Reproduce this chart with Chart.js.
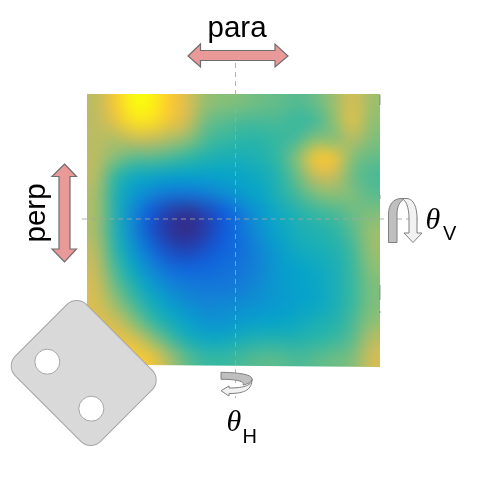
<!DOCTYPE html>
<html>
<head>
<meta charset="utf-8">
<style>
  html, body { margin: 0; padding: 0; background: #fff; }
  canvas { display: block; }
</style>
<script src="https://cdn.jsdelivr.net/npm/chart.js@4"></script>
</head>
<body>
<canvas id="map" width="480" height="480"></canvas>
<script>
// map values, 0 = dark blue, 1 = yellow, one list per row
const row0  = [.62, .78, 1.0, .98, .80, .68, .57, .55, .54, .52, .51, .49, .52, .58, .68, .58];
const row1  = [.62, .72, .90, .90, .76, .66, .52, .50, .48, .48, .48, .46, .47, .56, .72, .56];
const row2  = [.62, .60, .64, .64, .60, .56, .48, .46, .44, .44, .46, .48, .56, .54, .62, .54];
const row3  = [.62, .55, .50, .50, .48, .45, .42, .40, .40, .42, .46, .56, .80, .78, .54, .51];
const row4  = [.62, .45, .38, .36, .34, .34, .34, .35, .36, .38, .43, .52, .64, .64, .52, .48];
const row5  = [.60, .42, .32, .26, .22, .22, .24, .28, .33, .36, .42, .48, .54, .56, .54, .50];
const row6  = [.60, .42, .27, .14, .06, .02, .08, .15, .24, .32, .38, .42, .46, .48, .52, .54];
const row7  = [.60, .42, .27, .12, .03, .00, .06, .15, .22, .30, .36, .40, .42, .44, .50, .58];
const row8  = [.62, .44, .31, .19, .10, .07, .12, .17, .20, .27, .33, .38, .40, .42, .47, .58];
const row9  = [.64, .48, .36, .26, .19, .17, .18, .20, .22, .26, .32, .35, .37, .40, .46, .56];
const row10 = [.66, .52, .42, .33, .26, .23, .22, .22, .24, .28, .32, .34, .36, .40, .46, .54];
const row11 = [.68, .58, .48, .39, .33, .28, .26, .27, .28, .30, .32, .34, .36, .40, .46, .54];
const row12 = [.70, .66, .56, .46, .39, .34, .30, .30, .33, .34, .35, .37, .40, .42, .48, .56];
const row13 = [.75, .74, .70, .58, .48, .40, .37, .37, .40, .42, .42, .42, .44, .46, .50, .62];
const row14 = [.80, .82, .82, .76, .60, .50, .46, .46, .48, .50, .50, .48, .50, .52, .54, .66];
const rows = [row0, row1, row2, row3, row4, row5, row6, row7, row8, row9, row10, row11, row12, row13, row14];

// parula stops
const parula = [[53,42,135],[15,92,221],[20,129,214],[6,164,202],[46,183,164],[135,191,119],[209,187,89],[254,200,50],[249,251,14]];
const stopAt = [0, .15, .25, .35, .45, .55, .65, .8, 1];

function colourOf(v) {
    let i = 0;
    while (i < stopAt.length - 2 && v > stopAt[i + 1]) i++;
    const t = (v - stopAt[i]) / (stopAt[i + 1] - stopAt[i]);
    const c = parula[i].map((p, k) => Math.round(p + (parula[i + 1][k] - p) * t));
    return 'rgb(' + c.join(',') + ')';
}

const cells = [];
rows.forEach((row, r) => row.forEach((v, c) => cells.push({ x: c + 0.5, y: r + 0.5, v: v })));

// smooths the drawn cells, the source image was interpolated
const smoothCells = {
    id: 'smoothCells',
    afterDatasetsDraw(chart) {
        const a = chart.chartArea, ctx = chart.ctx;
        const nx = row0.length, ny = rows.length;
        const cw = a.width / nx, ch = a.height / ny;
        const tmp = document.createElement('canvas');
        tmp.width = nx + 2;
        tmp.height = ny + 2;
        const t = tmp.getContext('2d');
        t.imageSmoothingEnabled = false;
        t.drawImage(chart.canvas, a.left, a.top, a.width, a.height, 1, 1, nx, ny);
        // repeat the edge cells so the blur does not fade out at the border
        t.drawImage(tmp, 1, 1, nx, 1, 1, 0, nx, 1);
        t.drawImage(tmp, 1, ny, nx, 1, 1, ny + 1, nx, 1);
        t.drawImage(tmp, 1, 0, 1, ny + 2, 0, 0, 1, ny + 2);
        t.drawImage(tmp, nx, 0, 1, ny + 2, nx + 1, 0, 1, ny + 2);
        ctx.save();
        ctx.fillStyle = '#fff';
        ctx.fillRect(a.left, a.top, a.width, a.height + 1);
        ctx.beginPath();
        ctx.moveTo(a.left, a.top);
        ctx.lineTo(a.right, a.top);
        ctx.lineTo(a.right, a.bottom);
        ctx.lineTo(a.left, a.bottom - 2.5);
        ctx.closePath();
        ctx.clip();
        ctx.imageSmoothingEnabled = true;
        ctx.imageSmoothingQuality = 'high';
        ctx.filter = 'blur(6px)';
        ctx.drawImage(tmp, a.left - cw, a.top - ch, a.width + 2 * cw, a.height + 2 * ch);
        ctx.restore();
    }
};

function doubleArrow(ctx, pts) {
    ctx.beginPath();
    pts.forEach((p, i) => i ? ctx.lineTo(p[0], p[1]) : ctx.moveTo(p[0], p[1]));
    ctx.closePath();
    ctx.fillStyle = '#ea9999';
    ctx.strokeStyle = '#6e6e6e';
    ctx.lineWidth = 1.2;
    ctx.fill();
    ctx.stroke();
}

function dashed(ctx, x1, y1, x2, y2) {
    ctx.save();
    ctx.strokeStyle = 'rgba(165,165,165,0.85)';
    ctx.lineWidth = 1;
    ctx.setLineDash([5, 4]);
    ctx.beginPath();
    ctx.moveTo(x1, y1);
    ctx.lineTo(x2, y2);
    ctx.stroke();
    ctx.restore();
}

function label(ctx, text, x, y, font) {
    ctx.font = font;
    ctx.fillStyle = '#000';
    ctx.textAlign = 'left';
    ctx.textBaseline = 'alphabetic';
    ctx.fillText(text, x, y);
}

// arrows, crosshair, sample holder and the axis names
const overlay = {
    id: 'overlay',
    afterDraw(chart) {
        const ctx = chart.ctx;
        ctx.save();

        dashed(ctx, 235.5, 63, 235.5, 398);
        dashed(ctx, 82, 219, 418, 219);

        // small marks on the right edge
        ctx.fillStyle = '#8b9a9a';
        [[95, 10], [195, 4], [285, 15], [311, 2]].forEach(m => ctx.fillRect(379, m[0], 1.5, m[1]));

        doubleArrow(ctx, [[188, 56], [200.5, 44], [200.5, 50.5], [275, 50.5], [275, 44], [288, 56], [275, 67], [275, 60.5], [200.5, 60.5], [200.5, 67]]);
        doubleArrow(ctx, [[64.5, 164], [76.5, 176.5], [70, 176.5], [70, 249], [76.5, 249], [64.5, 262], [52, 249], [59, 249], [59, 176.5], [52, 176.5]]);

        label(ctx, 'para', 207.5, 37, '29.5px "Liberation Sans"');
        ctx.save();
        ctx.translate(45, 242.5);
        ctx.rotate(-Math.PI / 2);
        label(ctx, 'perp', 0, 0, '29.5px "Liberation Sans"');
        ctx.restore();

        // theta V rotation icon
        ctx.strokeStyle = '#7f7f7f';
        ctx.lineWidth = 1;
        ctx.beginPath();
        ctx.moveTo(388.5, 242.5);
        ctx.lineTo(388.5, 214);
        ctx.bezierCurveTo(388.5, 204, 394, 198.5, 401, 198.5);
        ctx.lineTo(407, 198.5);
        ctx.bezierCurveTo(401, 199, 397, 205, 397, 214);
        ctx.lineTo(397, 242.5);
        ctx.closePath();
        ctx.fillStyle = '#bfbfbf';
        ctx.fill();
        ctx.stroke();
        ctx.beginPath();
        ctx.moveTo(401, 198.5);
        ctx.lineTo(407, 198.5);
        ctx.bezierCurveTo(414, 199, 417, 208, 417, 218);
        ctx.lineTo(417, 233);
        ctx.lineTo(422, 233);
        ctx.lineTo(413, 242.5);
        ctx.lineTo(404, 233);
        ctx.lineTo(409, 233);
        ctx.lineTo(409, 218);
        ctx.bezierCurveTo(409, 208, 406, 199, 401, 198.5);
        ctx.closePath();
        ctx.fillStyle = '#f2f2f2';
        ctx.fill();
        ctx.stroke();

        // theta H rotation icon
        ctx.beginPath();
        ctx.moveTo(252, 379);
        ctx.bezierCurveTo(252, 385, 245, 388, 229, 388);
        ctx.lineTo(229, 386);
        ctx.lineTo(221, 390.7);
        ctx.lineTo(229, 396);
        ctx.lineTo(229, 393.5);
        ctx.bezierCurveTo(246, 393.5, 252, 389, 252, 379);
        ctx.closePath();
        ctx.fillStyle = '#f2f2f2';
        ctx.fill();
        ctx.stroke();
        ctx.beginPath();
        ctx.moveTo(221, 372.3);
        ctx.bezierCurveTo(236, 372.5, 252, 374, 252, 379);
        ctx.bezierCurveTo(252, 382, 248, 384, 243, 385);
        ctx.bezierCurveTo(245, 381, 236, 379.3, 221, 379.3);
        ctx.closePath();
        ctx.fillStyle = '#bfbfbf';
        ctx.fill();
        ctx.stroke();

        label(ctx, 'θ', 425.5, 229, 'italic 30px "Liberation Serif"');
        label(ctx, 'V', 443, 240, '20px "Liberation Sans"');
        label(ctx, 'θ', 226.5, 431, 'italic 30px "Liberation Serif"');
        label(ctx, 'H', 242.5, 443, '20px "Liberation Sans"');

        // sample holder
        ctx.save();
        ctx.translate(83.7, 373);
        ctx.rotate(Math.PI / 4);
        ctx.beginPath();
        ctx.roundRect(-60.3, -50.4, 120.6, 100.8, 14);
        ctx.fillStyle = '#d9d9d9';
        ctx.strokeStyle = '#a6a6a6';
        ctx.lineWidth = 1;
        ctx.fill();
        ctx.stroke();
        ctx.restore();
        [[47.3, 361.7], [91.3, 408.7]].forEach(h => {
            ctx.beginPath();
            ctx.arc(h[0], h[1], 12.5, 0, Math.PI * 2);
            ctx.fillStyle = '#fff';
            ctx.strokeStyle = '#a6a6a6';
            ctx.fill();
            ctx.stroke();
        });

        ctx.restore();
    }
};

new Chart(document.getElementById('map').getContext('2d'), {
    type: 'scatter',
    data: {
        datasets: [{
            data: cells,
            pointStyle: 'rect',
            pointRadius: 14,
            borderWidth: 0,
            backgroundColor: c => colourOf(c.raw ? c.raw.v : 0)
        }]
    },
    options: {
        responsive: false,
        animation: false,
        layout: { padding: { left: 87, right: 100, top: 94, bottom: 113 } },
        plugins: { legend: { display: false }, tooltip: { enabled: false } },
        scales: {
            x: { type: 'linear', min: 0, max: row0.length, display: false },
            y: { type: 'linear', min: 0, max: rows.length, reverse: true, display: false }
        }
    },
    plugins: [smoothCells, overlay]
});
</script>
</body>
</html>
